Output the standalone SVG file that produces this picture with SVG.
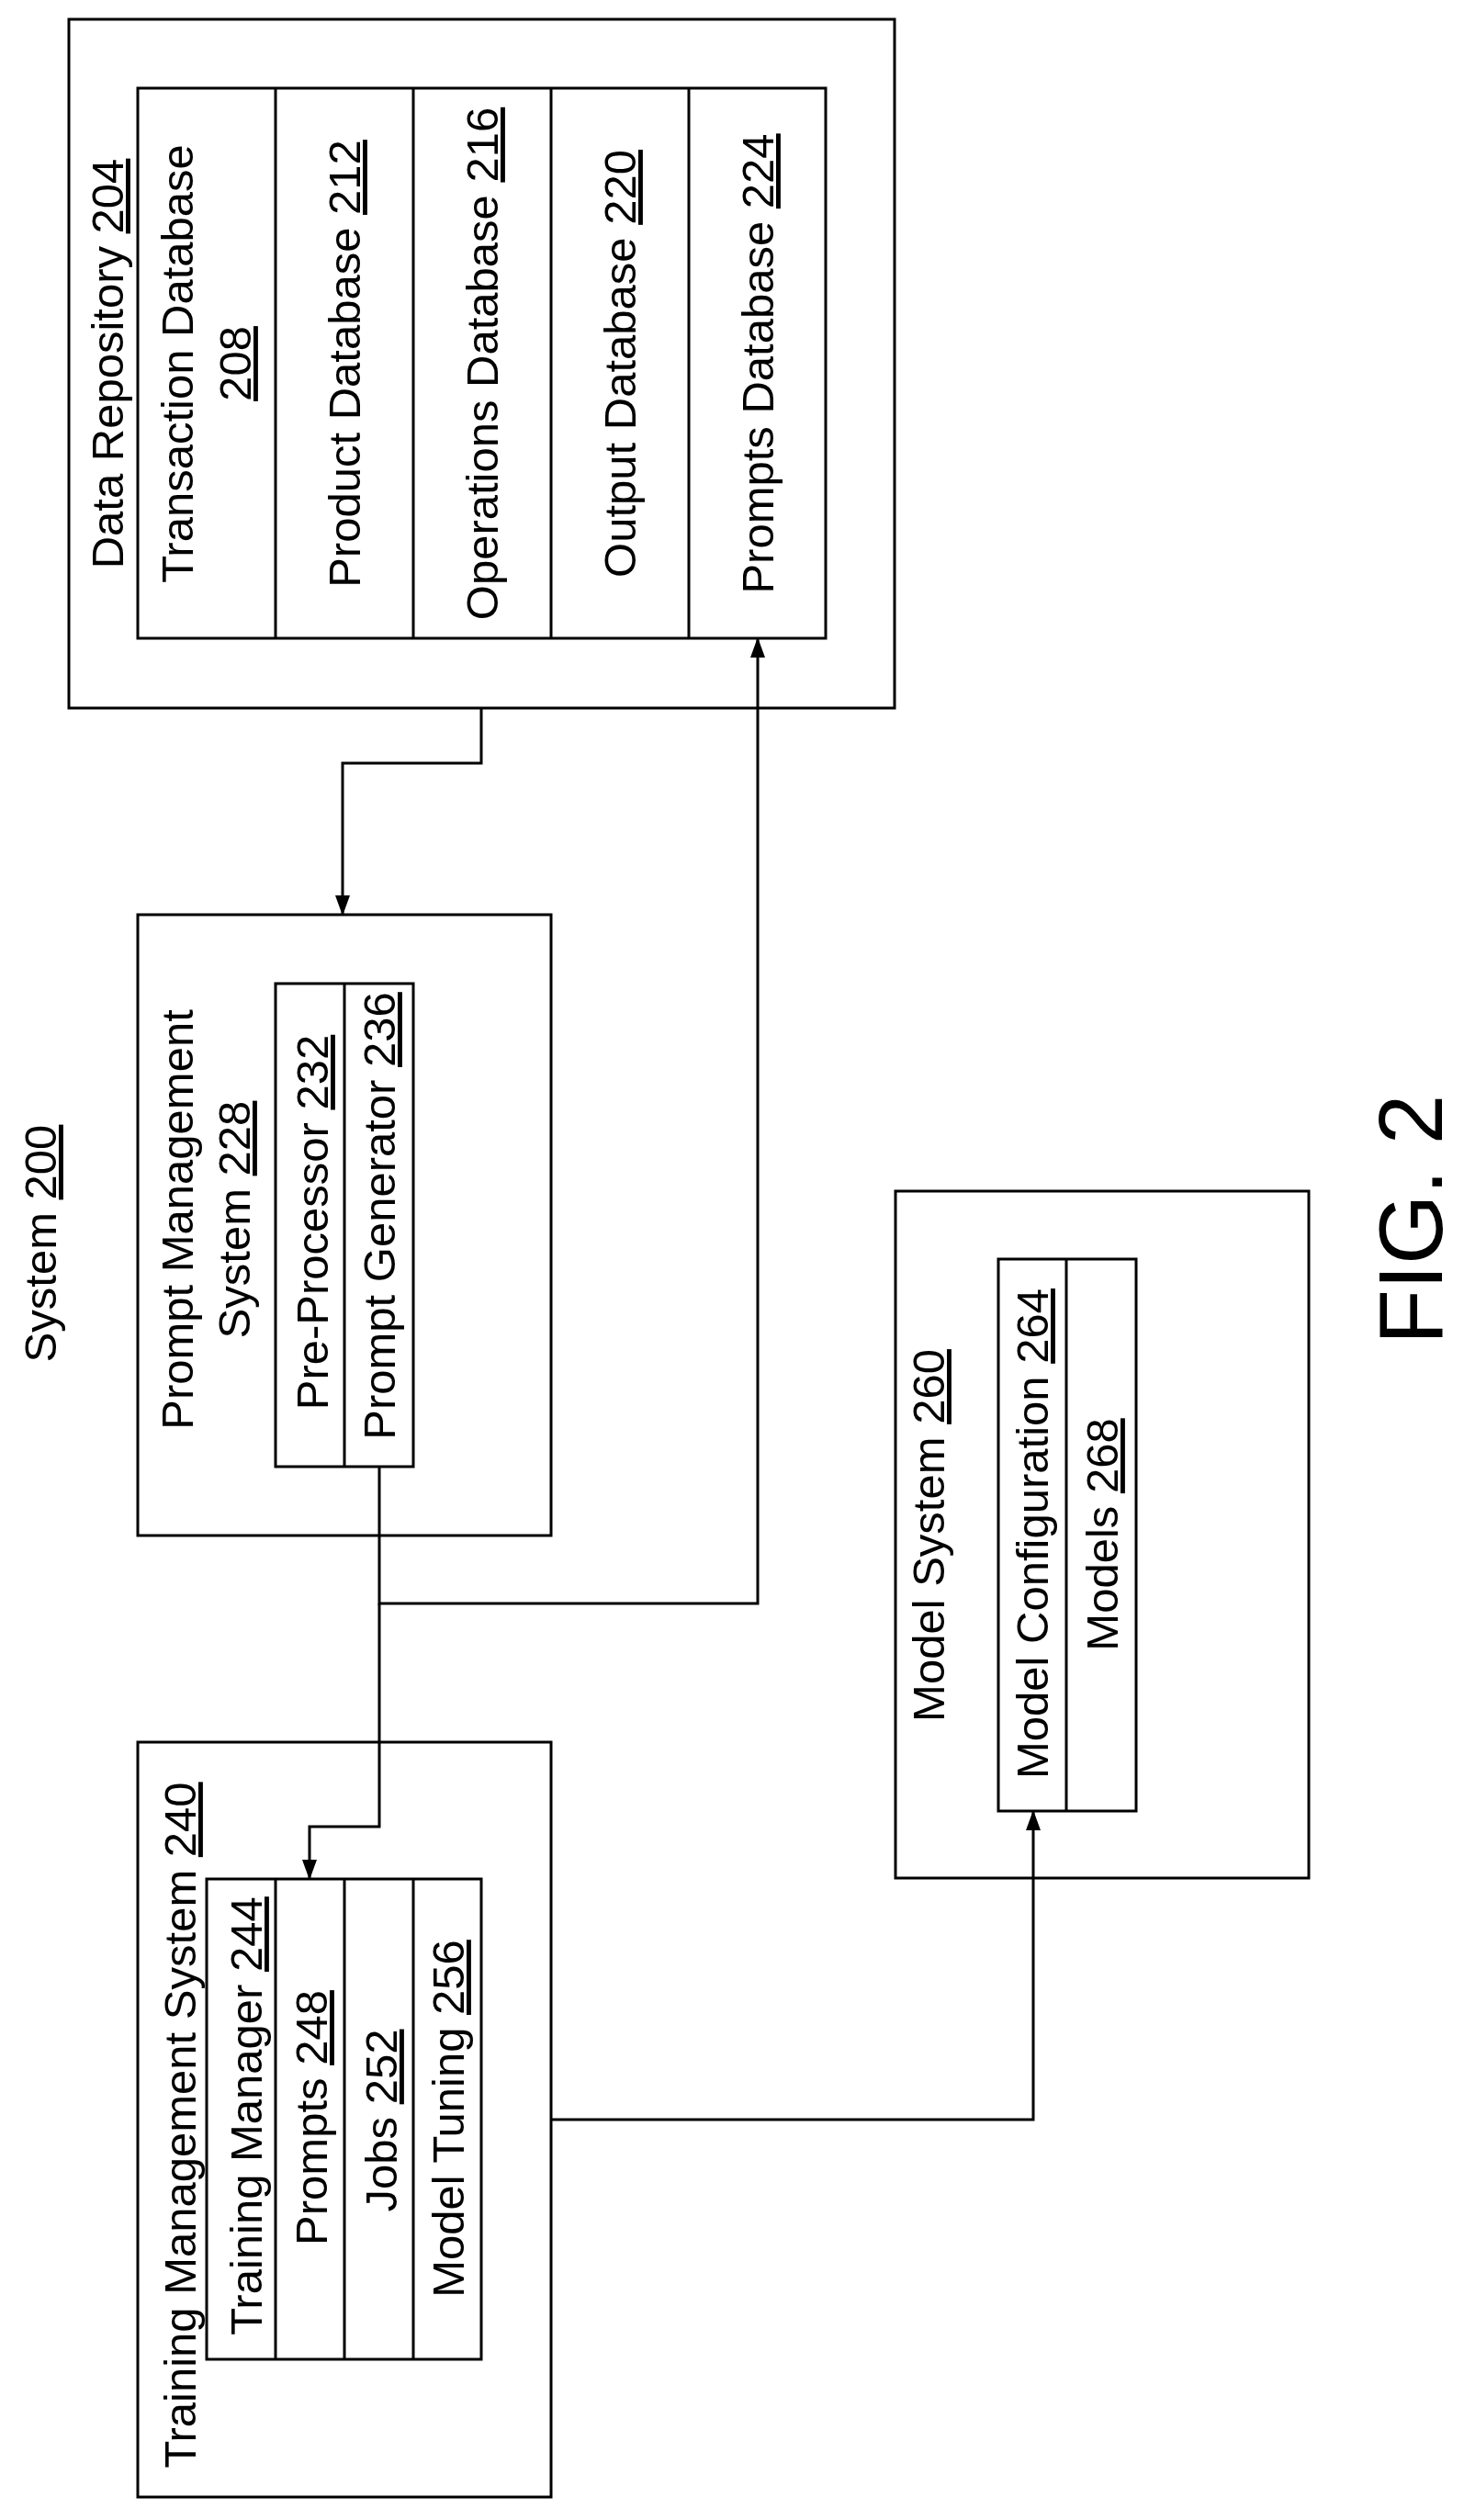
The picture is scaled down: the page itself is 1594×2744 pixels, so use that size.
<svg xmlns="http://www.w3.org/2000/svg" width="1594" height="2744" viewBox="0 0 1594 2744">
<defs>
<style>
.b{fill:none;stroke:#000;stroke-width:3}
.t{font-family:"Liberation Sans",Arial,sans-serif;font-size:49px;fill:#000;text-anchor:middle}
.u{text-decoration:underline}
.c{fill:none;stroke:#000;stroke-width:3}
</style>
<marker id="a" markerWidth="22" markerHeight="16" refX="21" refY="8" orient="auto" markerUnits="userSpaceOnUse">
<path d="M0,0 L22,8 L0,16 Z" fill="#000"/>
</marker>
</defs>
<rect width="1594" height="2744" fill="#fff"/>
<text class="t" transform="translate(61,1354) rotate(-90)">System <tspan class="u">200</tspan></text>
<g id="data-repository">
<rect class="b" x="75" y="21" width="899" height="750"/>
<rect class="b" x="150" y="96" width="749" height="599"/>
<line class="b" x1="300" y1="96" x2="300" y2="695"/>
<line class="b" x1="450" y1="96" x2="450" y2="695"/>
<line class="b" x1="600" y1="96" x2="600" y2="695"/>
<line class="b" x1="750" y1="96" x2="750" y2="695"/>
<text class="t" transform="translate(134,396) rotate(-90)">Data Repository <tspan class="u">204</tspan></text>
<text class="t" transform="translate(210,396) rotate(-90)">Transaction Database</text>
<text class="t" transform="translate(273,396) rotate(-90)"><tspan class="u">208</tspan></text>
<text class="t" transform="translate(392,396) rotate(-90)">Product Database <tspan class="u">212</tspan></text>
<text class="t" transform="translate(542,396) rotate(-90)">Operations Database <tspan class="u">216</tspan></text>
<text class="t" transform="translate(692,396) rotate(-90)">Output Database <tspan class="u">220</tspan></text>
<text class="t" transform="translate(842,396) rotate(-90)">Prompts Database <tspan class="u">224</tspan></text>
</g>
<g id="prompt-management">
<rect class="b" x="150" y="996" width="450" height="676"/>
<rect class="b" x="300" y="1071" width="150" height="526"/>
<line class="b" x1="375" y1="1071" x2="375" y2="1597"/>
<text class="t" transform="translate(210,1328) rotate(-90)">Prompt Management</text>
<text class="t" transform="translate(272,1328) rotate(-90)">System <tspan class="u">228</tspan></text>
<text class="t" transform="translate(357,1331) rotate(-90)">Pre-Processor <tspan class="u">232</tspan></text>
<text class="t" transform="translate(430,1324) rotate(-90)">Prompt Generator <tspan class="u">236</tspan></text>
</g>
<g id="training-management">
<rect class="b" x="150" y="1897" width="450" height="822"/>
<rect class="b" x="225" y="2046" width="299" height="523"/>
<line class="b" x1="300" y1="2046" x2="300" y2="2569"/>
<line class="b" x1="375" y1="2046" x2="375" y2="2569"/>
<line class="b" x1="450" y1="2046" x2="450" y2="2569"/>
<text class="t" transform="translate(213,2314) rotate(-90)">Training Management System <tspan class="u">240</tspan></text>
<text class="t" transform="translate(285,2304) rotate(-90)">Training Manager <tspan class="u">244</tspan></text>
<text class="t" transform="translate(356,2306) rotate(-90)">Prompts <tspan class="u">248</tspan></text>
<text class="t" transform="translate(432,2309) rotate(-90)">Jobs <tspan class="u">252</tspan></text>
<text class="t" transform="translate(505,2307) rotate(-90)">Model Tuning <tspan class="u">256</tspan></text>
</g>
<g id="model-system">
<rect class="b" x="975" y="1297" width="450" height="748"/>
<rect class="b" x="1087" y="1371" width="150" height="601"/>
<line class="b" x1="1161" y1="1371" x2="1161" y2="1972"/>
<text class="t" transform="translate(1028,1672) rotate(-90)">Model System <tspan class="u">260</tspan></text>
<text class="t" transform="translate(1141,1670) rotate(-90)">Model Configuration <tspan class="u">264</tspan></text>
<text class="t" transform="translate(1217,1671) rotate(-90)">Models <tspan class="u">268</tspan></text>
</g>
<text class="t" style="font-size:98px;text-anchor:start" transform="translate(1570,1464) rotate(-90)">FIG. 2</text>
<g id="connectors">
<polyline class="c" points="524,771 524,831 373,831 373,996" marker-end="url(#a)"/>
<polyline class="c" points="413,1597 413,1746 825,1746 825,695" marker-end="url(#a)"/>
<polyline class="c" points="413,1746 413,1989 337,1989 337,2046" marker-end="url(#a)"/>
<polyline class="c" points="600,2308 1125,2308 1125,1972" marker-end="url(#a)"/>
</g>
</svg>
